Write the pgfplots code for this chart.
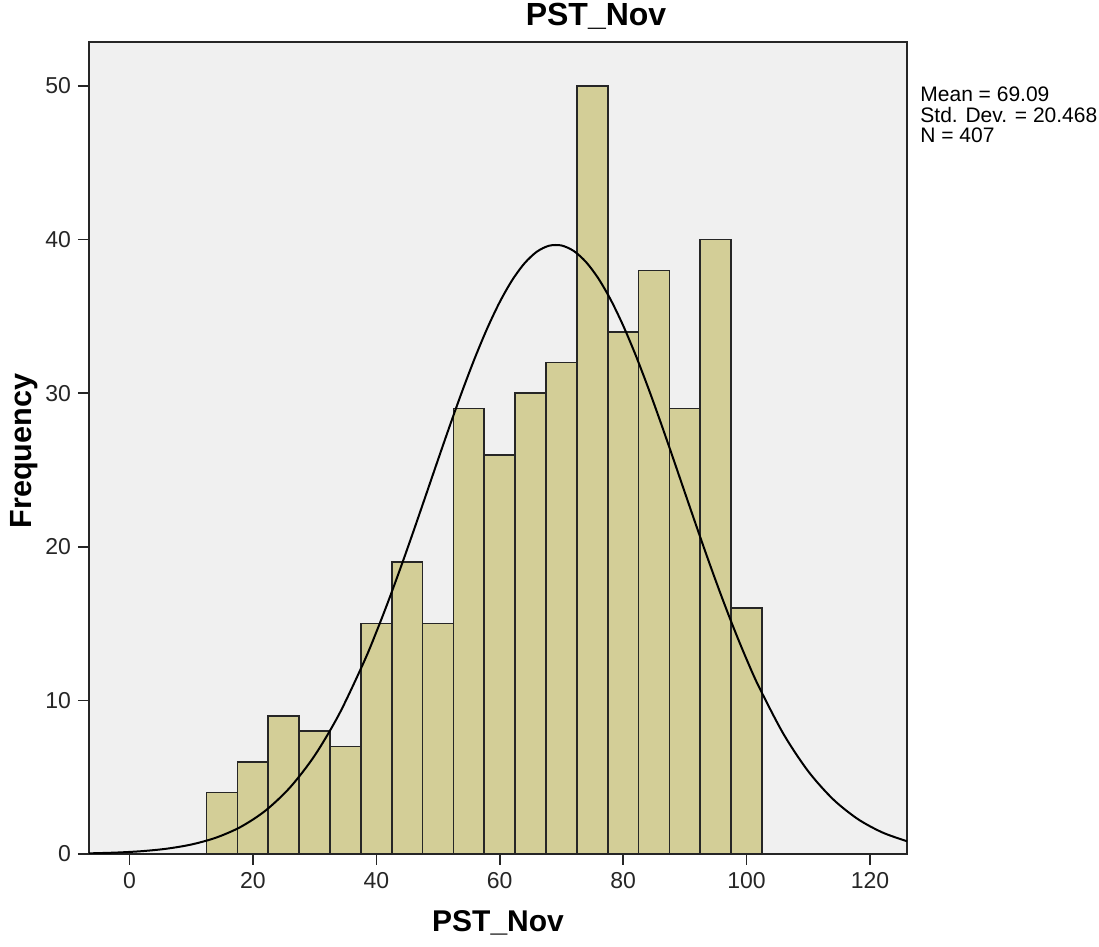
\documentclass[border=0pt]{standalone}
\usepackage{fontspec}
\setmainfont{Liberation Sans}
\usepackage{pgfplots}
\pgfplotsset{compat=1.18}

\definecolor{barfill}{RGB}{211,206,151}
\definecolor{plotbg}{RGB}{240,240,240}
\definecolor{edge}{RGB}{38,38,38}

% Histogram of PST_Nov: bin centres (width 5) and frequencies
\begin{document}
\begin{tikzpicture}
\useasboundingbox (-44.5pt,-46.5pt) rectangle (505pt,427pt);
\begin{axis}[
  scale only axis,
  width=409pt, height=406pt,
  xmin=-6.56, xmax=126, ymin=0, ymax=52.87,
  axis background/.style={fill=plotbg},
  axis line style={draw=edge, line width=1pt},
  xtick={0,20,...,120}, ytick={0,10,...,50},
  tick align=outside, tick pos=left,
  major tick length=5.5pt,
  tick style={draw=edge, line width=0.8pt},
  ticklabel style={font=\fontsize{11.5}{13}\selectfont, text=black!85},
  /pgf/number format/assume math mode=true,
  clip=true,
]
\addplot[ybar, bar width=5, fill=barfill, draw=edge, line width=0.85pt]
  coordinates {
  (15,4) (20,6) (25,9) (30,8) (35,7) (40,15) (45,19) (50,15)
  (55,29) (60,26) (65,30) (70,32) (75,50) (80,34) (85,38) (90,29)
  (95,40) (100,16)
  };
% Normal curve, mean 69.09, sd 20.468, N = 407, bin width 5
\addplot[black, line width=1pt, smooth, mark=none]
  coordinates {
  (-7,0.040) (-6,0.047) (-2,0.095) (2,0.184) (6,0.343) (10,0.615)
  (14,1.060) (18,1.759) (22,2.811) (26,4.325) (30,6.402) (34,9.123)
  (38,12.512) (40,14.445) (42,16.518) (44,18.710) (46,20.990)
  (48,23.324) (50,25.671) (52,27.987) (54,30.223) (56,32.325)
  (58,34.246) (60,35.936) (62,37.350) (64,38.452) (66,39.211)
  (68,39.604) (70,39.621) (72,39.261) (74,38.535) (76,37.463)
  (78,36.075) (80,34.408) (82,32.506) (84,30.418) (86,28.193)
  (88,25.883) (90,23.535) (92,21.198) (94,18.912) (96,16.711)
  (98,14.626) (100,12.681) (102,10.888) (106,7.803) (110,5.382)
  (114,3.572) (118,2.282) (122,1.404) (126,0.831) (127,0.725)
  };
\end{axis}
\node[anchor=base, font=\fontsize{16}{18}\selectfont\bfseries] at (253.5pt,414pt) {PST\_Nov};
\node[anchor=base, font=\fontsize{15}{17}\selectfont\bfseries] at (204.5pt,-39pt) {PST\_Nov};
\node[anchor=base, rotate=90, font=\fontsize{15.3}{17}\selectfont\bfseries] at (-28.5pt,201.5pt) {Frequency};
\node[anchor=base west, inner sep=0pt, font=\fontsize{10.5}{12}\selectfont] at (415.5pt,376pt) {Mean = 69.09};
\node[anchor=base west, inner sep=0pt, font=\fontsize{10.5}{12}\selectfont] at (415.5pt,365.5pt) {Std. Dev. = 20.468};
\node[anchor=base west, inner sep=0pt, font=\fontsize{10.5}{12}\selectfont] at (415.5pt,355.5pt) {N = 407};
\end{tikzpicture}
\end{document}
